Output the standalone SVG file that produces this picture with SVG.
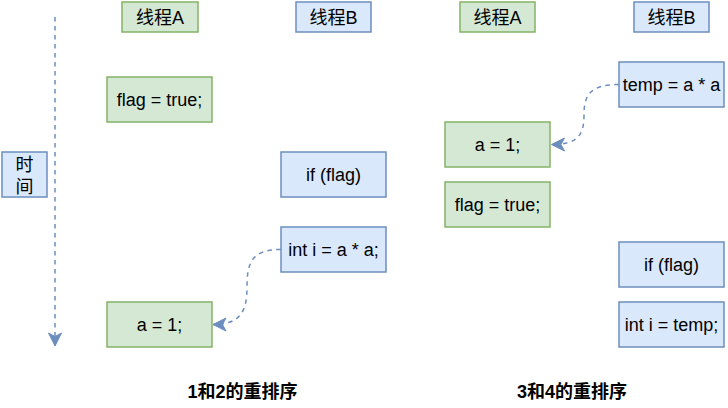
<svg xmlns="http://www.w3.org/2000/svg" width="728" height="408" viewBox="0 0 728 408">
<style>
.g{fill:#d5e8d4;stroke:#82b366;stroke-width:1.5}
.b{fill:#dae8fc;stroke:#6c8ebf;stroke-width:1.5}
.t{font-family:"Liberation Sans","Noto Sans CJK SC",sans-serif;font-size:18px;fill:#000;text-anchor:middle}
.lb{font-family:"Liberation Sans","Noto Sans CJK SC",sans-serif;font-size:18px;font-weight:bold;fill:#000;text-anchor:middle}
.c{fill:none;stroke:#6c8ebf;stroke-width:1.5;stroke-dasharray:4.5 4.5}
</style>
<defs>
<marker id="arr" markerUnits="userSpaceOnUse" markerWidth="16" markerHeight="16" viewBox="-14 -8 16 16" refX="0" refY="0" orient="auto">
<path d="M0,0 L-13,-6.5 L-9.5,0 L-13,6.5 Z" fill="#6c8ebf" stroke="#6c8ebf" stroke-width="1"/>
</marker>
</defs>
<rect width="728" height="408" fill="#fff"/>
<g id="connectors">
<path class="c" d="M55,17 L55,346" marker-end="url(#arr)"/>
<path class="c" d="M281,249.5 C252,249.5 247,262 247,287 C247,312 240,324.5 213,324.5" marker-end="url(#arr)"/>
<path class="c" d="M619,84.5 C590,84.5 584,95 584,115 C584,135 578,144.5 551.5,144.5" marker-end="url(#arr)"/>
</g>
<g id="time"><rect class="b" x="2" y="152" width="45" height="45"/><text class="t" x="24.5" y="170.5">时</text><text class="t" x="24.5" y="192.5">间</text></g>
<g id="l-threadA"><rect class="g" x="122" y="2" width="76" height="30"/><text class="t" x="160" y="23.5">线程A</text></g>
<g id="l-threadB"><rect class="b" x="296" y="2" width="75" height="30"/><text class="t" x="333.5" y="23.5">线程B</text></g>
<g id="l-flag"><rect class="g" x="107" y="77" width="105" height="45"/><text class="t" x="159.5" y="105.5">flag = true;</text></g>
<g id="l-if"><rect class="b" x="281" y="152" width="105" height="45"/><text class="t" x="333.5" y="180.5">if (flag)</text></g>
<g id="l-int"><rect class="b" x="281" y="227" width="105" height="45"/><text class="t" x="333.5" y="255.5">int i = a * a;</text></g>
<g id="l-a"><rect class="g" x="107" y="302" width="105" height="45"/><text class="t" x="159.5" y="330.5">a = 1;</text></g>
<g id="r-threadA"><rect class="g" x="460" y="2" width="75" height="30"/><text class="t" x="497.5" y="23.5">线程A</text></g>
<g id="r-threadB"><rect class="b" x="634" y="2" width="75" height="30"/><text class="t" x="671.5" y="23.5">线程B</text></g>
<g id="r-temp"><rect class="b" x="619" y="62" width="105" height="45"/><text class="t" x="671.5" y="90.5">temp = a * a</text></g>
<g id="r-a"><rect class="g" x="445" y="122" width="105" height="45"/><text class="t" x="497.5" y="150.5">a = 1;</text></g>
<g id="r-flag"><rect class="g" x="445" y="182" width="105" height="45"/><text class="t" x="497.5" y="210.5">flag = true;</text></g>
<g id="r-if"><rect class="b" x="619" y="242" width="105" height="45"/><text class="t" x="671.5" y="270.5">if (flag)</text></g>
<g id="r-int"><rect class="b" x="619" y="302" width="105" height="45"/><text class="t" x="671.5" y="330.5">int i = temp;</text></g>
<g id="label-left"><text class="lb" x="242.5" y="398">1和2的重排序</text></g>
<g id="label-right"><text class="lb" x="572" y="398">3和4的重排序</text></g>
</svg>
